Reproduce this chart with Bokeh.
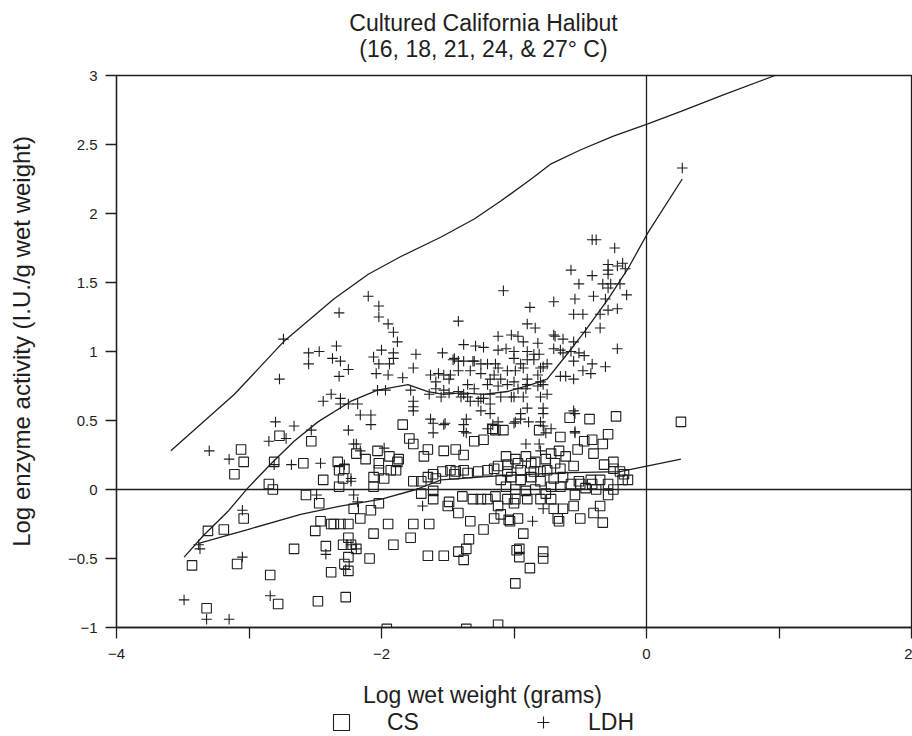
import math
from bokeh.plotting import figure
from bokeh.models import Range1d, FixedTicker, Span, Label, Legend, LegendItem
from bokeh.layouts import column, row
from bokeh.embed import file_html
from bokeh.resources import INLINE

# ---------------- data ----------------
ldh_pts = [
    (-2.10, 1.40), (-2.02, 1.33), (-2.02, 1.25), (-1.95, 1.20), (-1.91, 1.14), (-1.88, 1.07), (-2.32, 1.28), (-2.74, 1.09), (-2.77, 0.80), (-2.55, 0.99),
    (-2.47, 1.00), (-2.55, 0.91), (-2.34, 1.04), (-2.37, 0.95), (-2.31, 0.93), (-2.25, 0.87), (-2.32, 0.82), (-2.06, 0.96), (-2.00, 1.01), (-1.91, 0.99),
    (-1.91, 0.95), (-2.02, 0.91), (-1.94, 0.91), (-2.04, 0.84), (-1.95, 0.83), (-1.84, 0.81), (-1.74, 0.98), (-1.76, 0.88), (-1.54, 0.99), (-1.46, 0.94),
    (-1.42, 1.22), (-2.03, 0.72), (-1.97, 0.72), (-2.44, 0.64), (-2.38, 0.69), (-2.31, 0.66), (-2.31, 0.62), (-2.25, 0.62), (-2.18, 0.62), (-1.76, 0.64),
    (-1.76, 0.57), (-2.16, 0.54), (-2.08, 0.54), (-2.08, 0.47), (-2.25, 0.43), (-2.80, 0.49), (-2.66, 0.46), (-2.85, 0.35), (-2.72, 0.37), (-2.53, 0.43),
    (-3.30, 0.28), (-3.15, 0.22), (-2.81, 0.18), (-2.68, 0.18), (-2.46, 0.19), (-2.21, 0.33), (-2.16, 0.28), (-1.08, 1.44), (-1.12, 1.11), (-1.02, 1.12),
    (-0.97, 1.11), (-1.38, 1.05), (-1.29, 1.04), (-1.23, 1.03), (-1.12, 1.01), (-1.06, 1.02), (-1.00, 1.00), (-1.42, 0.93), (-1.38, 0.93), (-1.31, 0.93),
    (-1.25, 0.91), (-1.20, 0.91), (-1.14, 0.91), (-1.63, 0.83), (-1.57, 0.84), (-1.53, 0.83), (-1.48, 0.83), (-1.42, 0.86), (-1.33, 0.86), (-1.25, 0.84),
    (-1.15, 0.83), (-1.05, 0.86), (-1.59, 0.78), (-1.49, 0.80), (-1.59, 0.73), (-1.53, 0.72), (-1.42, 0.71), (-1.30, 0.73), (-1.20, 0.76), (-1.12, 0.75),
    (-1.05, 0.76), (-1.00, 0.78), (-0.97, 0.73), (-1.78, 0.72), (-1.64, 0.69), (-1.55, 0.67), (-1.49, 0.70), (-1.40, 0.67), (-1.35, 0.67), (-1.25, 0.66),
    (-1.18, 0.69), (-1.10, 0.67), (-1.02, 0.67), (0.27, 2.33), (-0.41, 1.81), (-0.38, 1.81), (-0.24, 1.75), (-0.57, 1.59), (-0.41, 1.55), (-0.29, 1.63),
    (-0.29, 1.59), (-0.29, 1.56), (-0.22, 1.62), (-0.18, 1.64), (-0.16, 1.60), (-0.51, 1.49), (-0.33, 1.49), (-0.29, 1.46), (-0.27, 1.49), (-0.20, 1.49),
    (-0.15, 1.41), (-0.70, 1.36), (-0.54, 1.38), (-0.40, 1.40), (-0.31, 1.38), (-0.55, 1.27), (-0.48, 1.27), (-0.35, 1.27), (-0.29, 1.30), (-0.22, 1.31),
    (-0.88, 1.32), (-0.90, 1.20), (-0.84, 1.17), (-0.35, 1.17), (-0.46, 1.14), (-0.70, 1.12), (-0.69, 1.11), (-0.63, 1.09), (-0.55, 1.07), (-0.93, 1.07),
    (-0.82, 1.06), (-0.22, 1.02), (-0.70, 1.02), (-0.65, 1.01), (-0.63, 0.99), (-0.57, 1.00), (-0.51, 0.99), (-0.47, 0.97), (-0.90, 1.00), (-0.85, 0.98),
    (-0.81, 0.98), (-0.55, 0.93), (-0.41, 0.91), (-0.31, 0.89), (-0.75, 0.91), (-0.80, 0.88), (-0.48, 0.86), (-0.42, 0.84), (-0.65, 0.82), (-0.61, 0.82),
    (-0.55, 0.80), (-0.93, 0.88), (-0.90, 0.80), (-0.80, 0.78), (-0.78, 0.76), (-0.91, 0.73), (-0.80, 0.67), (-1.52, 0.48), (-1.36, 0.51), (-1.38, 0.42),
    (-1.20, 0.44), (-1.16, 0.47), (-0.99, 0.49), (-0.95, 0.51), (-0.89, 0.49), (-0.80, 0.49), (-0.78, 0.46), (-0.72, 0.44), (-0.54, 0.42), (-0.91, 0.33),
    (-0.81, 0.33), (-0.80, 0.28), (-0.55, 0.57), (-0.90, 0.59), (-0.78, 0.59), (-0.78, 0.55), (-0.95, 0.55), (-1.18, 0.55), (-1.25, 0.57), (-1.33, 0.64),
    (-1.27, 0.64), (-1.18, 0.62), (-1.23, 0.66), (-1.76, 0.60), (-1.63, 0.51), (-1.61, 0.48), (-1.53, 0.47), (-1.61, 0.41), (-1.38, 0.47), (-1.36, 0.41),
    (-2.19, 0.33), (-1.98, 0.30), (-2.28, 0.18), (-2.23, 0.06), (-1.12, 0.49), (-1.00, 0.48), (-0.54, 0.55), (-0.54, 0.41), (-0.76, 0.41), (-0.75, 0.69),
    (-1.45, 0.95), (-1.30, 0.93), (-1.12, 0.88), (-1.00, 0.95), (-0.95, 0.91), (-0.90, 0.94), (-0.85, 0.94), (-0.78, 0.89), (-0.99, 0.86), (-0.82, 0.83),
    (-1.18, 0.80), (-1.10, 0.80), (-0.90, 0.76), (-0.82, 0.75), (-1.35, 0.76), (-1.38, 0.69), (-1.00, 0.67), (-0.93, 0.67),
    (-2.49, -0.04), (-2.23, 0.08), (-2.21, -0.04), (-2.18, -0.09), (-1.69, -0.12), (-3.05, -0.15), (-3.38, -0.40), (-3.37, -0.43), (-3.05, -0.49), (-2.42, -0.47),
    (-3.49, -0.80), (-3.32, -0.94), (-3.15, -0.94), (-2.84, -0.77), (-0.86, -0.23), (-0.78, -0.14), (-2.23, -0.40), (-2.19, -0.43), (-2.27, -0.58),
]

cs_pts = [
    (-3.43, -0.55), (-3.31, -0.30), (-3.19, -0.29), (-3.32, -0.86), (-3.09, -0.54), (-3.11, 0.11), (-3.06, 0.29), (-3.04, 0.20), (-3.04, -0.21), (-2.84, -0.62),
    (-2.77, 0.39), (-2.53, 0.35), (-2.81, 0.20), (-2.59, 0.19), (-2.85, 0.04), (-2.82, 0.00), (-2.57, -0.04), (-2.47, -0.10), (-2.44, 0.07), (-2.66, -0.43),
    (-2.42, -0.41), (-2.78, -0.83), (-2.48, -0.81), (-2.46, -0.23), (-2.36, -0.25), (-2.50, -0.30), (-2.38, -0.60), (-2.33, 0.20), (-2.32, 0.14), (-2.32, 0.02),
    (-2.27, -0.78), (-1.96, -1.01), (-1.84, 0.47), (-1.79, 0.37), (-1.76, 0.33), (-1.65, 0.29), (-1.68, 0.24), (-1.53, 0.28), (-1.44, 0.29), (-1.38, 0.25),
    (-1.30, 0.35), (-1.23, 0.36), (-1.14, 0.43), (-1.08, 0.43), (-1.16, 0.44), (-2.19, 0.26), (-2.12, 0.22), (-2.03, 0.28), (-1.94, 0.24), (-1.88, 0.20),
    (-2.02, 0.19), (-2.02, 0.14), (-1.93, 0.14), (-2.06, 0.09), (-1.98, 0.08), (-2.06, 0.02), (-2.28, 0.15), (-2.29, 0.08), (-1.89, 0.14), (-1.87, 0.22),
    (-1.76, 0.06), (-1.65, 0.09), (-1.59, 0.08), (-1.70, 0.06), (-1.61, 0.11), (-1.54, 0.13), (-1.48, 0.14), (-1.44, 0.13), (-1.38, 0.14), (-1.27, 0.13),
    (-1.20, 0.14), (-1.12, 0.17), (-1.05, 0.18), (-0.97, 0.19), (-1.70, -0.03), (-1.61, -0.01), (-1.61, -0.07), (-1.49, -0.09), (-1.50, -0.12), (-1.42, -0.17),
    (-1.39, -0.05), (-1.31, -0.07), (-1.25, -0.07), (-1.20, -0.07), (-1.14, -0.05), (-1.05, -0.07), (-0.99, -0.07), (-1.12, -0.12), (-1.15, -0.21), (-1.04, -0.22),
    (-1.10, -0.18), (-1.33, -0.23), (-1.23, -0.29), (-1.34, -0.36), (-1.95, -0.25), (-2.06, -0.32), (-2.25, -0.25), (-1.76, -0.25), (-1.64, -0.25), (-1.78, -0.35),
    (-1.91, -0.40), (-2.21, -0.14), (-2.16, -0.21), (-2.08, -0.15), (-2.02, -0.10), (-2.38, -0.25), (-2.31, -0.25), (-2.25, -0.35), (-2.29, -0.40), (-2.23, -0.40),
    (-2.25, -0.49), (-2.09, -0.50), (-2.19, -0.43), (-2.28, -0.54), (-2.25, -0.59), (-1.65, -0.48), (-1.53, -0.48), (-1.42, -0.45), (-1.36, -0.43), (-1.38, -0.51),
    (-0.98, -0.44), (-0.99, -0.68), (-1.36, -1.01), (-1.12, -0.98), (-0.88, -0.57), (-0.96, -0.43), (-0.96, -0.49), (-0.78, -0.45), (-0.78, -0.50), (-0.93, -0.32),
    (-1.03, -0.23), (-0.97, -0.21), (-0.66, -0.23), (-0.50, -0.21), (-0.33, -0.24), (-0.40, -0.17), (-0.35, -0.12), (-0.63, -0.14), (-0.55, -0.12), (-0.70, -0.14),
    (-1.00, -0.10), (-0.90, -0.07), (-0.80, -0.07), (-0.72, -0.07), (-0.65, 0.02), (-0.57, 0.04), (-0.50, 0.04), (-0.41, 0.04), (-0.29, 0.04), (-0.25, 0.00),
    (-0.18, 0.07), (-0.17, 0.11), (-0.25, 0.15), (-0.32, 0.18), (-1.45, 0.11), (-1.35, 0.12), (-1.15, 0.15), (-1.05, 0.13), (-0.95, 0.14), (-0.85, 0.13),
    (-0.75, 0.14), (-0.65, 0.15), (-0.55, 0.17), (-0.58, 0.52), (-0.43, 0.51), (-0.23, 0.53), (0.26, 0.49), (-0.81, 0.43), (-0.65, 0.38), (-0.29, 0.40),
    (-0.33, 0.33), (-0.41, 0.36), (-0.47, 0.35), (-0.40, 0.26), (-0.52, 0.29), (-0.72, 0.26), (-0.66, 0.28), (-0.25, 0.20), (-0.20, 0.13), (-0.14, 0.07),
    (-0.35, 0.07), (-0.42, 0.07), (-0.51, 0.06), (-0.63, 0.09), (-0.70, 0.08), (-0.46, 0.01), (-0.38, 0.00), (-0.29, -0.04), (-0.54, -0.04), (-0.67, -0.21),
    (-1.06, 0.24), (-0.99, 0.22), (-0.91, 0.24), (-0.84, 0.20), (-0.76, 0.22), (-1.02, 0.09), (-0.95, 0.07), (-0.87, 0.09), (-0.80, 0.06), (-0.72, 0.02),
    (-1.06, 0.02), (-0.99, 0.00), (-0.91, -0.01), (-0.84, 0.00), (-0.76, -0.03), (-1.10, 0.07), (-0.87, 0.19), (-0.80, 0.13), (-0.69, 0.19), (-0.61, 0.24),
]

ldh_x = [a for a, b in ldh_pts]
ldh_y = [b for a, b in ldh_pts]
cs_x = [a for a, b in cs_pts]
cs_y = [b for a, b in cs_pts]

# upper envelope curve
upper_x = [-3.59, -3.11, -2.74, -2.36, -2.10, -1.85, -1.55, -1.30, -1.10, -0.87, -0.72, -0.50, -0.25, 0.01, 0.26, 0.58, 0.97]
upper_y = [0.28, 0.69, 1.07, 1.38, 1.56, 1.69, 1.83, 1.96, 2.09, 2.25, 2.36, 2.46, 2.56, 2.65, 2.74, 2.86, 3.00]
# LDH smooth
ldh_fit_x = [-3.49, -3.34, -3.16, -3.01, -2.83, -2.66, -2.48, -2.23, -2.03, -1.80, -1.65, -1.53, -1.40, -1.23, -1.05, -0.87, -0.75, -0.60, -0.47, -0.29, -0.14, 0.01, 0.27]
ldh_fit_y = [-0.49, -0.33, -0.16, 0.01, 0.19, 0.35, 0.49, 0.64, 0.72, 0.76, 0.71, 0.69, 0.70, 0.69, 0.71, 0.76, 0.80, 0.98, 1.14, 1.38, 1.60, 1.86, 2.25]
# CS smooth
cs_fit_x = [-3.38, -3.01, -2.61, -2.31, -2.00, -1.74, -1.55, -1.10, -0.65, -0.20, 0.26]
cs_fit_y = [-0.39, -0.29, -0.18, -0.12, -0.07, 0.00, 0.07, 0.10, 0.12, 0.13, 0.22]

x_ticks = [-4, -2, 0, 2]
x_minor = [-3, -1, 1]
x_tick_labels = ["\u22124", "\u22122", "0", "2"]
y_ticks = [-1, -0.5, 0, 0.5, 1, 1.5, 2, 2.5, 3]
y_tick_labels = ["\u22121", "\u22120.5", "0", "0.5", "1", "1.5", "2", "2.5", "3"]

title_lines = ["Cultured California Halibut", "(16, 18, 21, 24, & 27\u00b0 C)"]
x_title = "Log wet weight (grams)"
y_title = "Log enzyme activity (I.U./g wet weight)"
series_names = ["CS", "LDH"]

# ---------------- styling / layout ----------------
FONT = "Liberation Sans"
INK = "#1e1e1e"
W = 912
TITLE_H = 65
YLAB_W = 60
MAIN_H = 602
BOTTOM_H = 736 - TITLE_H - MAIN_H


def blank(width, height):
    f = figure(width=width, height=height, output_backend="svg", toolbar_location=None,
               x_range=Range1d(0, width), y_range=Range1d(0, height),
               x_axis_type=None, y_axis_type=None, min_border=0)
    f.outline_line_color = None
    f.grid.visible = False
    f.background_fill_color = "white"
    f.border_fill_color = "white"
    return f


def text(f, x, y, s, size="23px", angle=0.0):
    f.add_layout(Label(x=x, y=y, text=s, angle=angle, text_align="center",
                       text_baseline="alphabetic", text_font=FONT,
                       text_font_size=size, text_color=INK))


# title strip
tf = blank(W, TITLE_H)
text(tf, 483, 43, title_lines[0])
text(tf, 483, 17, title_lines[1])

# y-label strip
yf = blank(YLAB_W, MAIN_H)
text(yf, 21, 312, y_title, size="24px", angle=math.pi / 2)

# main plot
p = figure(width=W - YLAB_W, height=MAIN_H, output_backend="svg", toolbar_location=None,
           x_range=Range1d(-4, 2), y_range=Range1d(-1, 3),
           min_border_left=56, min_border_right=1, min_border_top=10, min_border_bottom=40)
p.grid.visible = False
p.outline_line_color = INK
p.outline_line_width = 1.3
p.background_fill_color = "white"
p.border_fill_color = "white"

xa = p.xaxis[0]
xa.ticker = FixedTicker(ticks=x_ticks, minor_ticks=x_minor)
xa.major_label_overrides = {float(t): s for t, s in zip(x_ticks, x_tick_labels)}
ya = p.yaxis[0]
ya.ticker = FixedTicker(ticks=y_ticks, minor_ticks=[])
ya.major_label_overrides = {float(t): s for t, s in zip(y_ticks, y_tick_labels)}

for ax in (xa, ya):
    ax.axis_line_color = INK
    ax.axis_line_width = 1.3
    ax.major_tick_line_color = INK
    ax.major_tick_line_width = 1.3
    ax.minor_tick_line_color = INK
    ax.minor_tick_line_width = 1.3
    ax.major_tick_in = 0
    ax.major_tick_out = 11
    ax.minor_tick_in = 0
    ax.minor_tick_out = 11
    ax.major_label_text_font = FONT
    ax.major_label_text_font_size = "15px"
    ax.major_label_text_color = INK
xa.major_label_standoff = 10
ya.major_label_standoff = 8

p.add_layout(Span(location=0, dimension="height", line_color=INK, line_width=1.3))
p.add_layout(Span(location=0, dimension="width", line_color=INK, line_width=1.3))

p.line(upper_x, upper_y, line_color=INK, line_width=1.3)
p.line(ldh_fit_x, ldh_fit_y, line_color=INK, line_width=1.3)
p.line(cs_fit_x, cs_fit_y, line_color=INK, line_width=1.3)

p.scatter(cs_x, cs_y, marker="square", size=9.5, fill_color=None,
          line_color=INK, line_width=1.1)
p.scatter(ldh_x, ldh_y, marker="cross", size=10.5,
          line_color=INK, line_width=1.1)

# bottom strip: x title + legend (legend keys come from hidden copies of the series)
bf = blank(W, BOTTOM_H)
text(bf, 482, 42, x_title)
key_cs = bf.scatter(x=cs_x, y=cs_y, marker="square", fill_color=None,
                    line_color=INK, line_width=1.1, visible=False)
key_ldh = bf.scatter(x=ldh_x, y=ldh_y, marker="cross",
                     line_color=INK, line_width=1.1, visible=False)

common = dict(orientation="horizontal", padding=0, margin=0, border_line_color=None,
              background_fill_alpha=0, inactive_fill_alpha=0, label_text_font=FONT,
              label_text_font_size="23px", label_text_color=INK)
bf.add_layout(Legend(items=[LegendItem(label=series_names[0], renderers=[key_cs])],
                     location=(321, -6), glyph_width=40, glyph_height=40,
                     label_standoff=26, **common))
bf.add_layout(Legend(items=[LegendItem(label=series_names[1], renderers=[key_ldh])],
                     location=(528, -1), glyph_width=30, glyph_height=30,
                     label_standoff=30, **common))

layout = column(tf, row(yf, p, spacing=0), bf, spacing=0)
open("out.html", "w").write(file_html(layout, INLINE))
